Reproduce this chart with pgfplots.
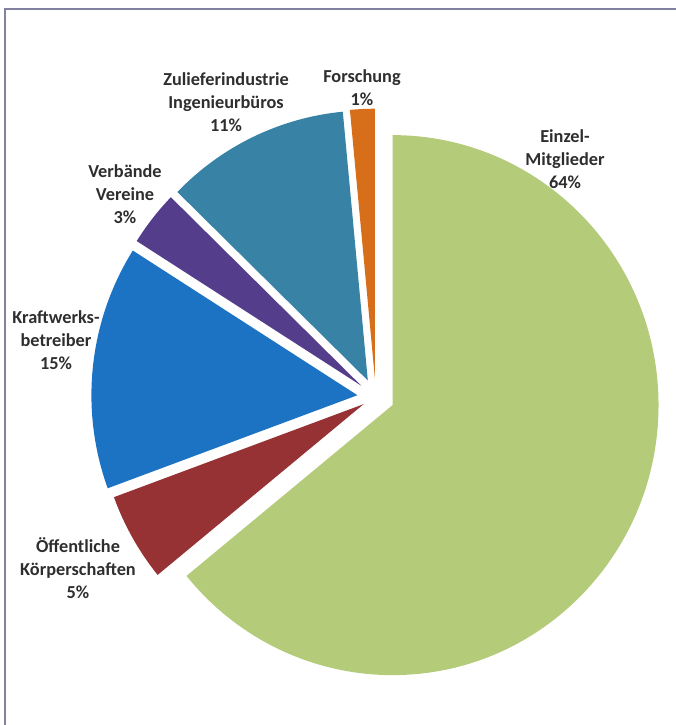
\documentclass[border=0pt]{standalone}
\usepackage{pgfplots}
\usepackage{pgfplotstable}
\pgfplotsset{compat=1.18}
\usepackage{fontspec}
\setmainfont{Carlito}
\definecolor{cGreen}{HTML}{B4CB7A}
\definecolor{cRed}{HTML}{963234}
\definecolor{cBlue}{HTML}{1C73C3}
\definecolor{cPurple}{HTML}{543E8C}
\definecolor{cTeal}{HTML}{3782A5}
\definecolor{cOrange}{HTML}{D76E19}
\definecolor{cText}{HTML}{2E2E2E}
\definecolor{cFrame}{HTML}{8282A0}

% value (percent), explosion (px), colour; clockwise from 12 o'clock
\pgfplotstableread{
value explode color
64.1 18.5 cGreen
5.3  14.0 cRed
14.6 18.5 cBlue
3.3  18.5 cPurple
11.2 18.5 cTeal
1.5  18.5 cOrange
}\piedata

\begin{document}
\begin{tikzpicture}
\begin{axis}[
  scale only axis,
  width=676pt, height=725pt,
  xmin=0, xmax=676, ymin=0, ymax=725,
  hide axis,
  clip=true,
]
\path (axis cs:0,0) rectangle (axis cs:676,725);
\gdef\curangle{90}
\pgfplotstablegetrowsof{\piedata}
\pgfmathtruncatemacro\lastrow{\pgfplotsretval-1}
\foreach \i in {0,...,\lastrow}{
  \pgfplotstablegetelem{\i}{value}\of\piedata \let\v\pgfplotsretval
  \pgfplotstablegetelem{\i}{explode}\of\piedata \let\d\pgfplotsretval
  \pgfplotstablegetelem{\i}{color}\of\piedata \let\c\pgfplotsretval
  \pgfmathsetmacro\s{\curangle}
  \pgfmathsetmacro\e{\s-3.6*\v}
  \pgfmathsetmacro\m{(\s+\e)/2}
  \pgfmathsetmacro\ax{375.8+\d*cos(\m)}
  \pgfmathsetmacro\ay{327.8+\d*sin(\m)}
  \edef\temp{\noexpand\fill[\c] (axis cs:\ax,\ay) -- ++(\s:266pt and 270pt) arc[start angle=\s, end angle=\e, x radius=266pt, y radius=270pt] -- cycle;}
  \temp
  \xdef\curangle{\e}
}
\draw[cFrame, line width=1.4pt] (axis cs:5,-5) -- (axis cs:5,716) -- (axis cs:690,716);
\begin{scope}[every node/.style={align=center, text=cText, font=\fontsize{18.3}{23}\selectfont\bfseries}]
\node at (axis cs:226,623) {Zulieferindustrie\\Ingenieurbüros\\11\%};
\node at (axis cs:362,637) {Forschung\\1\%};
\node at (axis cs:565,566) {Einzel-\\Mitglieder\\64\%};
\node at (axis cs:125,531) {Verbände\\Vereine\\3\%};
\node at (axis cs:56,385) {Kraftwerks-\\betreiber\\15\%};
\node at (axis cs:78,157) {Öffentliche\\Körperschaften\\5\%};
\end{scope}
\end{axis}
\end{tikzpicture}
\end{document}
